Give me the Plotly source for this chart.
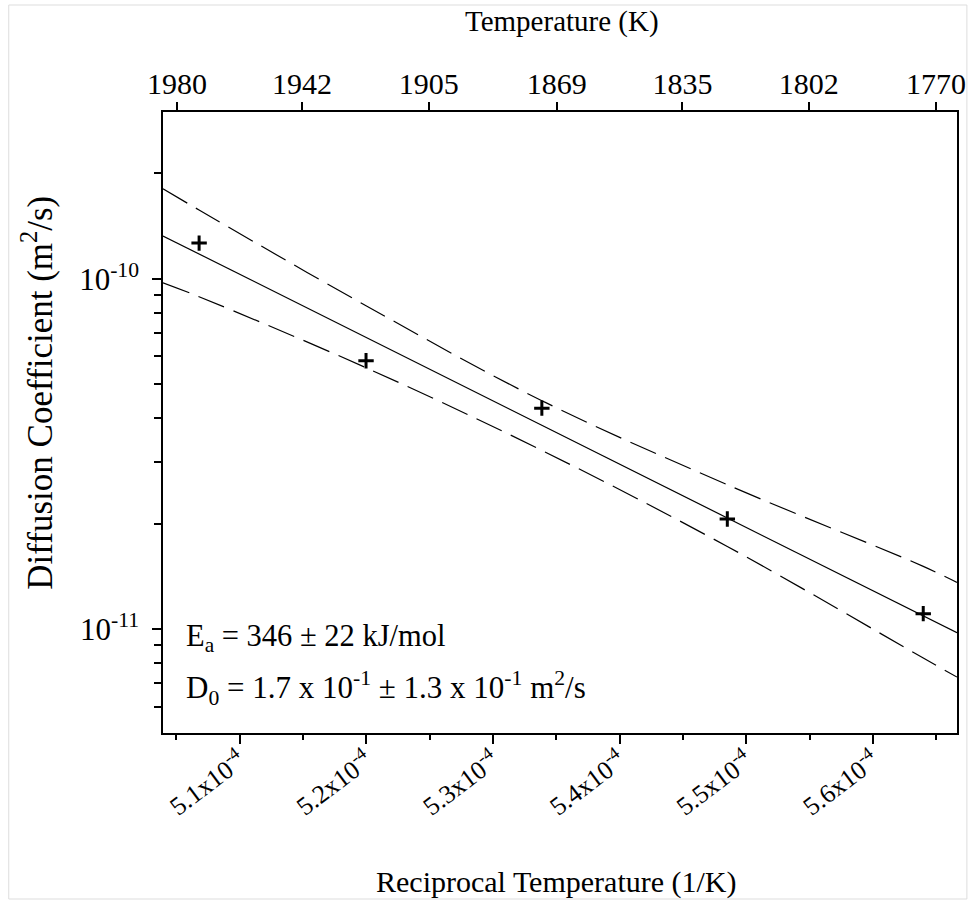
import math
import plotly.graph_objects as go

# Measured diffusion coefficients vs. anneal temperature
temperatures_K = [1973.15, 1923.15, 1873.15, 1823.15, 1773.15]
diffusion_m2s = [1.264e-10, 5.83e-11, 4.27e-11, 2.06e-11, 1.106e-11]

# Arrhenius fit parameters (D = D0 * exp(-Ea / R T))
Ea_kJmol = 346.0
D0_m2s = 0.17
R_J_molK = 8.314

# 95% confidence band of the fit, sampled along 1/T
band_recip_T = [5.0395e-4, 5.0680e-4, 5.1998e-4, 5.3386e-4, 5.4850e-4, 5.6397e-4, 5.6663e-4]
band_upper = [1.806e-10, 1.571e-10, 8.374e-11, 4.485e-11, 2.582e-11, 1.509e-11, 1.358e-11]
band_lower = [9.74e-11, 8.885e-11, 5.57e-11, 3.235e-11, 1.720e-11, 8.26e-12, 7.29e-12]

# Axis ticks
recip_ticks = [5.1e-4, 5.2e-4, 5.3e-4, 5.4e-4, 5.5e-4, 5.6e-4]
recip_tick_text = ["5.1x10<sup>-4</sup>", "5.2x10<sup>-4</sup>", "5.3x10<sup>-4</sup>",
                   "5.4x10<sup>-4</sup>", "5.5x10<sup>-4</sup>", "5.6x10<sup>-4</sup>"]
recip_minor = [5.05e-4, 5.15e-4, 5.25e-4, 5.35e-4, 5.45e-4, 5.55e-4, 5.65e-4]
temp_ticks_K = [1980, 1942, 1905, 1869, 1835, 1802, 1770]
d_ticks = [1e-10, 1e-11]
d_tick_text = ["10<sup>-10</sup>", "10<sup>-11</sup>"]
d_minor = [2e-10, 9e-11, 8e-11, 7e-11, 6e-11, 5e-11, 4e-11, 3e-11, 2e-11,
           9e-12, 8e-12, 7e-12, 6e-12]

x_range = [5.03953e-4, 5.66633e-4]
y_range_log = [-11.297, -9.524]

recip_T = [1.0 / t for t in temperatures_K]
fit_D = [D0_m2s * math.exp(-Ea_kJmol * 1000.0 / R_J_molK * x) for x in band_recip_T]

FONT = "Liberation Serif, Times New Roman, serif"
band_line = dict(color="black", width=1.2, dash="28px,10px", shape="spline", smoothing=1.0)

fig = go.Figure()
fig.add_trace(go.Scatter(x=band_recip_T, y=band_upper, mode="lines",
                         line=band_line, hoverinfo="skip"))
fig.add_trace(go.Scatter(x=band_recip_T, y=band_lower, mode="lines",
                         line=band_line, hoverinfo="skip"))
fig.add_trace(go.Scatter(x=band_recip_T, y=fit_D, mode="lines",
                         line=dict(color="black", width=1.2), hoverinfo="skip"))
fig.add_trace(go.Scatter(x=recip_T, y=diffusion_m2s, mode="markers",
                         marker=dict(symbol="cross-thin", size=11,
                                     line=dict(color="black", width=3))))
# empty trace so the top temperature axis is drawn
fig.add_trace(go.Scatter(x=[], y=[], xaxis="x2", yaxis="y", hoverinfo="skip"))

axis_common = dict(showgrid=False, zeroline=False, showline=True,
                   linecolor="black", linewidth=1.5, ticks="outside",
                   tickcolor="black", tickwidth=1.5)

fig.update_layout(
    width=977, height=904,
    margin=dict(l=163, r=11, t=112, b=171),
    paper_bgcolor="white", plot_bgcolor="white",
    showlegend=False,
    font=dict(family=FONT, size=28, color="black"),
    xaxis=dict(range=x_range, tickmode="array", tickvals=recip_ticks,
               ticktext=recip_tick_text, tickangle=-37, ticklen=9, mirror=True,
               tickfont=dict(size=26), ticklabelstandoff=-8,
               minor=dict(tickmode="array", tickvals=recip_minor, ticks="outside",
                          ticklen=5, tickwidth=1.5, tickcolor="black",
                          showgrid=False),
               **axis_common),
    xaxis2=dict(range=x_range, overlaying="x", side="top", tickmode="array",
                tickvals=[1.0 / t for t in temp_ticks_K],
                ticktext=[str(t) for t in temp_ticks_K], ticklen=8,
                tickfont=dict(size=30), ticklabelstandoff=-4,
                **axis_common),
    yaxis=dict(type="log", range=y_range_log, tickmode="array", tickvals=d_ticks,
               ticktext=d_tick_text, ticklen=9, mirror=True,
               tickfont=dict(size=31), ticklabelstandoff=7,
               minor=dict(tickmode="array", tickvals=d_minor, ticks="outside",
                          ticklen=7, tickwidth=1.5, tickcolor="black",
                          showgrid=False),
               **axis_common),
)

# Axis titles and fit parameters
fig.add_annotation(text="Temperature (K)", xref="paper", yref="paper",
                   x=0.502, y=1.1456, xanchor="center", yanchor="middle",
                   showarrow=False, font=dict(size=29))
fig.add_annotation(text="Reciprocal Temperature (1/K)", xref="paper", yref="paper",
                   x=0.495, y=-0.2395, xanchor="center", yanchor="middle",
                   showarrow=False, font=dict(size=30))
fig.add_annotation(text="Diffusion Coefficient (m<sup>2</sup>/s)", xref="paper",
                   yref="paper", x=-0.158, y=0.5473, xanchor="center",
                   yanchor="middle", textangle=-90, showarrow=False,
                   font=dict(size=35))
fig.add_annotation(text="E<sub>a</sub> = 346 ± 22 kJ/mol", xref="paper", yref="paper",
                   x=0.026, y=0.1535, xanchor="left", yanchor="middle",
                   showarrow=False, font=dict(size=30.5))
fig.add_annotation(text="D<sub>0</sub> = 1.7 x 10<sup>-1</sup> ± 1.3 x 10<sup>-1</sup> m<sup>2</sup>/s",
                   xref="paper", yref="paper", x=0.026, y=0.073,
                   xanchor="left", yanchor="middle", showarrow=False,
                   font=dict(size=31))

# light page border
fig.add_shape(type="rect", xref="paper", yref="paper",
              x0=(7 - 163) / 803, x1=(976 - 163) / 803,
              y0=(733 - 899) / 621, y1=(733 - 5) / 621,
              line=dict(color="#dddddd", width=1), layer="below")

fig.write_html("out.html")
